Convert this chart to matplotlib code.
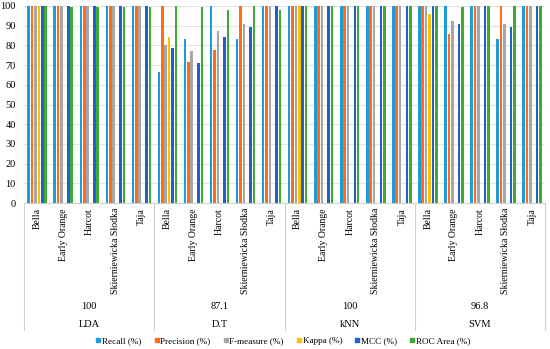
import numpy as np
import matplotlib
matplotlib.use('Agg')
import matplotlib.pyplot as plt
from matplotlib.lines import Line2D

plt.rcParams['font.family'] = ['Liberation Serif', 'DejaVu Serif']

nan = np.nan

classifiers = ['LDA', 'D.T', 'kNN', 'SVM']
accuracy_labels = ['100', '87.1', '100', '96.8']
varieties = ['Bella', 'Early Orange', 'Harcot', 'Skierniewicka Słodka', 'Taja']

recall = [100, 100, 100, 100, 100,
          66.7, 83.3, 100, 83.3, 100,
          100, 100, 100, 100, 100,
          100, 100, 100, 83.3, 100]
precision = [100, 100, 100, 100, 100,
             100, 71.4, 77.8, 100, 100,
             100, 100, 100, 100, 100,
             100, 85.7, 100, 100, 100]
fmeasure = [100, 100, 100, 100, 100,
            80.0, 76.9, 87.5, 90.9, 100,
            100, 100, 100, 100, 100,
            100, 92.3, 100, 90.9, 100]
kappa = [100, nan, nan, nan, nan,
         84.0, nan, nan, nan, nan,
         100, nan, nan, nan, nan,
         96.0, nan, nan, nan, nan]
mcc = [100, 100, 100, 100, 100,
       78.5, 71.1, 84.4, 89.4, 100,
       100, 100, 100, 100, 100,
       100, 90.6, 100, 89.4, 100]
roc = [100, 99.4, 99.4, 99.4, 99.4,
       100, 99.3, 98.0, 100, 98.0,
       100, 100, 100, 100, 100,
       100, 99.3, 100, 100, 100]

series = [recall, precision, fmeasure, kappa, mcc, roc]
names = ['Recall (%)', 'Precision (%)', 'F-measure (%)', 'Kappa (%)',
         'MCC (%)', 'ROC Area (%)']
colors = ['#1E9BDB', '#FF6B17', '#A6A6A6', '#FFC000', '#1E62C8', '#3DAA35']

fig = plt.figure(figsize=(5.5, 3.49), dpi=100)
ax = fig.add_axes([0.044, 0.418, 0.947, 0.565])

n = len(classifiers) * len(varieties)
x = np.arange(n)
pitch = 0.13
width = 0.1
for j, (vals, name, c) in enumerate(zip(series, names, colors)):
    ax.bar(x + (j - 2.5) * pitch, vals, width, color=c, label=name, zorder=3)

ax.set_xlim(-0.5, n - 0.5)
ax.set_ylim(0, 100)
ax.set_yticks(range(0, 101, 10))
ax.tick_params(axis='y', length=0, labelsize=7.5, pad=6)
ax.set_xticks([])
ax.grid(True, axis='y', color='#E3E3E3', linewidth=0.8, zorder=0)
for s in ['top', 'right', 'left']:
    ax.spines[s].set_visible(False)
ax.spines['bottom'].set_color('#D0D0D0')

# multi-level category axis
trans = ax.get_xaxis_transform()
for i in range(n):
    ax.text(i, -0.025, varieties[i % len(varieties)], rotation=90,
            ha='center', va='top', fontsize=7, transform=trans)
for k, (clf, acc) in enumerate(zip(classifiers, accuracy_labels)):
    mid = k * len(varieties) + (len(varieties) - 1) / 2
    ax.text(mid, -0.525, acc, ha='center', va='center', fontsize=7.5,
            transform=trans)
    ax.text(mid, -0.614, clf, ha='center', va='center', fontsize=7.5,
            transform=trans)
for b in np.arange(-0.5, n, len(varieties)):
    ax.plot([b, b], [0, -0.645], color='#D0D0D0', linewidth=0.8,
            transform=trans, clip_on=False)

handles = [Line2D([], [], marker='s', linestyle='none', color=c,
                  markersize=3.2) for c in colors]
fig.legend(handles, names, loc='center', bbox_to_anchor=(0.515, 0.024),
           ncol=6, frameon=False, fontsize=6.6, handlelength=0.5,
           handletextpad=0.15, columnspacing=1.4)

fig.savefig('out.png', dpi=100)
